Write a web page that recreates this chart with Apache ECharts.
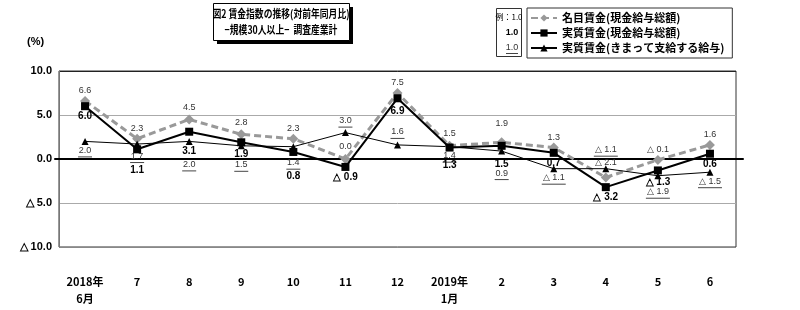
<!DOCTYPE html>
<html><head><meta charset="utf-8">
<script src="https://cdn.jsdelivr.net/npm/echarts@6/dist/echarts.min.js"></script>
<style>html,body{margin:0;padding:0;background:#fff}#c{width:800px;height:310px}</style>
</head><body><div id="c"></div>
<script>
var categories = ['2018年\n6月','7','8','9','10','11','12','2019年\n1月','2','3','4','5','6'];
var nominal = [6.6, 2.3, 4.5, 2.8, 2.3, 0.0, 7.5, 1.5, 1.9, 1.3, -2.1, -0.1, 1.6];
var realTotal = [6.0, 1.1, 3.1, 1.9, 0.8, -0.9, 6.9, 1.3, 1.5, 0.7, -3.2, -1.3, 0.6];
var realRegular = [2.0, 1.7, 2.0, 1.5, 1.4, 3.0, 1.6, 1.4, 0.9, -1.1, -1.1, -1.9, -1.5];
var yTicks = [-10, -5, 0, 5, 10];
var seriesNames = ['名目賃金(現金給与総額)','実質賃金(現金給与総額)','実質賃金(きまって支給する給与)'];

// label placement (style only)
var posN = ['top','top','top','top','top','top','top','top','top','top','top','top','top'];
var distN = [1,1,2,2,1,3,1,3,9,1,5,1,1];
var posR = ['bottom','bottom','bottom','bottom','bottom','bottom','bottom','bottom','bottom','bottom','bottom','bottom','bottom'];
var distR = [1,12,11,3,15,1,4,9,9,1,1,3,2];
var posK = ['bottom','bottom','bottom','bottom','bottom','top','top','bottom','bottom','bottom','top','bottom','bottom'];
var distK = [0,3,14,10,7,1,2,0,13,0,8,7,0];

function fmt(v){ return v < 0 ? '△ ' + Math.abs(v).toFixed(1) : v.toFixed(1); }
function build(vals, pos, dist){
  return vals.map(function(v,i){ return {value:v, label:{position:pos[i], distance:dist[i]}}; });
}
var FONT = '"Noto Sans CJK JP", "Liberation Sans", sans-serif';
var NUMFONT = '"Liberation Sans", Arial, sans-serif';

var chart = echarts.init(document.getElementById('c'), null, {renderer:'canvas'});
chart.setOption({
  animation:false,
  backgroundColor:'#fff',
  grid:[
    {left:59, right:64, top:71, bottom:63, show:true, borderColor:'#333', borderWidth:1},
    {left:55, right:57, top:71, bottom:63, show:false}
  ],
  xAxis:[
    {type:'category', data:categories, gridIndex:0, boundaryGap:true,
     axisLine:{show:false}, axisTick:{show:false},
     axisLabel:{margin:26, color:'#000', fontSize:11, fontWeight:'bold', fontFamily:FONT, lineHeight:17},
     splitLine:{show:false}},
    {type:'value', gridIndex:1, min:0, max:1, axisLine:{show:true, onZero:true, lineStyle:{color:'#000', width:2}},
     axisTick:{show:false}, axisLabel:{show:false}, splitLine:{show:false}}
  ],
  yAxis:[
    {type:'value', gridIndex:0, min:-10, max:10, interval:5,
     axisLine:{show:true, lineStyle:{color:'#777'}}, axisTick:{show:false},
     axisLabel:{margin:7, color:'#000', fontSize:11, fontWeight:'bold', fontFamily:NUMFONT,
       formatter:function(v){ return fmt(v); }},
     splitLine:{show:true, lineStyle:{color:['#888','#aaa','#aaa','#aaa','#222'], width:1}}},
    {type:'value', gridIndex:1, min:-10, max:10, show:false, axisLine:{onZero:false}}
  ],
  legend:{
    orient:'vertical', left:527, top:8, itemWidth:26, itemHeight:9, itemGap:3,
    padding:[4,8,4,3], borderColor:'#333', borderWidth:1,
    data:seriesNames,
    textStyle:{fontSize:11, fontWeight:'bold', color:'#000', fontFamily:FONT, lineHeight:12}
  },
  series:[
    {name:seriesNames[0], type:'line', xAxisIndex:0, yAxisIndex:0, data:build(nominal,posN,distN),
     symbol:'diamond', symbolSize:10, z:3,
     lineStyle:{color:'#999', width:3, type:[7,4]}, itemStyle:{color:'#999'},
     label:{show:true, fontSize:9, color:'#333', fontFamily:NUMFONT, formatter:function(p){return fmt(p.value);}}},
    {name:seriesNames[1], type:'line', xAxisIndex:0, yAxisIndex:0, data:build(realTotal,posR,distR),
     symbol:'rect', symbolSize:8, z:4,
     lineStyle:{color:'#000', width:2}, itemStyle:{color:'#000'},
     label:{show:true, fontSize:10, fontWeight:'bold', color:'#000', fontFamily:NUMFONT, formatter:function(p){return fmt(p.value);}}},
    {name:seriesNames[2], type:'line', xAxisIndex:0, yAxisIndex:0, data:build(realRegular,posK,distK),
     symbol:'triangle', symbolSize:7, z:3,
     lineStyle:{color:'#000', width:1}, itemStyle:{color:'#000'},
     label:{show:true, fontFamily:NUMFONT,
       formatter:function(p){ var s = fmt(p.value); return '{t|' + s + '}\n{' + (p.value<0?'ul':'us') + '| }'; },
       rich:{
         t:{fontSize:9, color:'#333', align:'center', fontFamily:NUMFONT, lineHeight:11},
         us:{width:14, height:1, lineHeight:2, backgroundColor:'#444', align:'center', fontSize:1},
         ul:{width:24, height:1, lineHeight:2, backgroundColor:'#444', align:'center', fontSize:1}
       }}}
  ],
  graphic:[
    {type:'text', left:27, top:36, style:{text:'(%)', fontSize:11, fontWeight:'bold', fill:'#000', fontFamily:NUMFONT}},
    {type:'rect', shape:{x:217, y:7, width:136, height:37}, style:{fill:'#000'}, z:10},
    {type:'rect', shape:{x:213.5, y:3.5, width:136, height:37}, style:{fill:'#fff', stroke:'#000', lineWidth:1}, z:11},
    {type:'text', x:281, y:14, scaleX:0.8, z:12, style:{text:'図2 賃金指数の推移(対前年同月比)', fontSize:11, fontWeight:'bold', fill:'#000', fontFamily:FONT, align:'center', verticalAlign:'middle'}},
    {type:'text', x:281, y:30, scaleX:0.8, z:12, style:{text:'−規模30人以上−  調査産業計', fontSize:11, fontWeight:'bold', fill:'#000', fontFamily:FONT, align:'center', verticalAlign:'middle'}},
    {type:'rect', shape:{x:496.5, y:8.5, width:25, height:48}, style:{fill:'#fff', stroke:'#333', lineWidth:1}, z:10},
    {type:'text', x:509, y:17, z:12, style:{text:'例：1.0', fontSize:8, fill:'#000', fontFamily:FONT, align:'center', verticalAlign:'middle'}},
    {type:'text', x:512, y:33, z:12, style:{text:'1.0', fontSize:9, fontWeight:'bold', fill:'#000', fontFamily:NUMFONT, align:'center', verticalAlign:'middle'}},
    {type:'text', x:512, y:48, z:12, style:{text:'1.0', fontSize:9, fill:'#333', fontFamily:NUMFONT, align:'center', verticalAlign:'middle'}},
    {type:'line', shape:{x1:506, y1:53.5, x2:518, y2:53.5}, style:{stroke:'#444', lineWidth:1}, z:12}
  ]
});
</script></body></html>
